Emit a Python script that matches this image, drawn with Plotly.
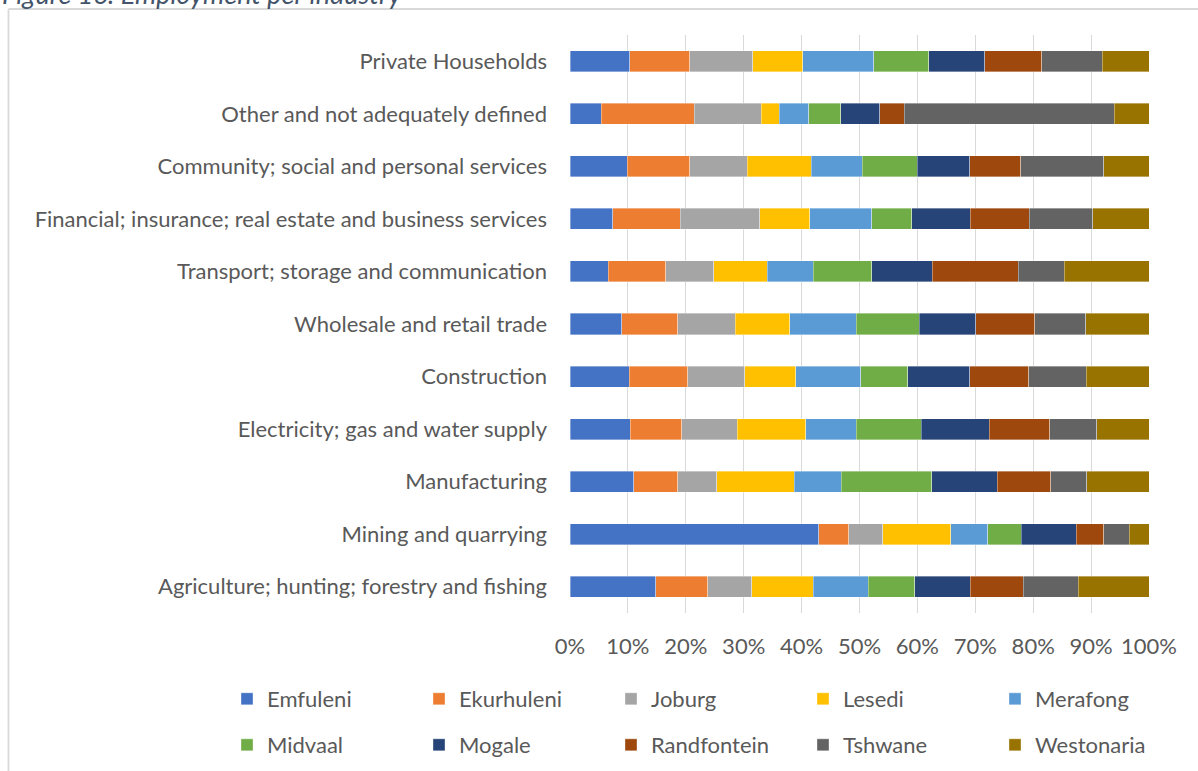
import plotly.graph_objects as go

# Industries, listed bottom to top as they appear on the axis
industries = [
    "Agriculture; hunting; forestry and fishing",
    "Mining and quarrying",
    "Manufacturing",
    "Electricity; gas and water supply",
    "Construction",
    "Wholesale and retail trade",
    "Transport; storage and communication",
    "Financial; insurance; real estate and business services",
    "Community; social and personal services",
    "Other and not adequately defined",
    "Private Households",
]

# Share of employment (%) per municipality, same order as industries
emfuleni    = [14.8, 43.0, 11.0, 10.4, 10.2, 8.9, 6.6, 7.4, 9.9, 5.4, 10.3]
ekurhuleni  = [9.0, 5.2, 7.6, 8.9, 10.1, 9.7, 9.9, 11.6, 10.8, 16.1, 10.4]
joburg      = [7.6, 5.9, 6.8, 9.6, 9.9, 9.9, 8.3, 13.8, 9.9, 11.5, 10.9]
lesedi      = [10.6, 11.7, 13.4, 11.8, 8.8, 9.4, 9.3, 8.6, 11.1, 3.1, 8.6]
merafong    = [9.5, 6.4, 8.1, 8.7, 11.2, 11.5, 7.9, 10.7, 8.8, 5.1, 12.3]
midvaal     = [8.0, 5.8, 15.6, 11.3, 8.1, 10.9, 10.1, 6.9, 9.5, 5.6, 9.5]
mogale      = [9.6, 9.5, 11.4, 11.7, 10.7, 9.7, 10.5, 10.1, 9.1, 6.7, 9.6]
randfontein = [9.2, 4.8, 9.2, 10.5, 10.2, 10.2, 14.8, 10.2, 8.8, 4.2, 9.9]
tshwane     = [9.5, 4.4, 6.2, 8.1, 10.0, 8.8, 8.0, 11.0, 14.4, 36.3, 10.4]
westonaria  = [12.2, 3.4, 10.8, 9.0, 10.8, 10.9, 14.6, 9.7, 7.8, 6.0, 8.1]

series_names = ["Emfuleni", "Ekurhuleni", "Joburg", "Lesedi", "Merafong",
                "Midvaal", "Mogale", "Randfontein", "Tshwane", "Westonaria"]
series_values = [emfuleni, ekurhuleni, joburg, lesedi, merafong,
                 midvaal, mogale, randfontein, tshwane, westonaria]
series_colors = ["#4472C4", "#ED7D31", "#A5A5A5", "#FFC000", "#5B9BD5",
                 "#70AD47", "#264478", "#9E480E", "#636363", "#997300"]

x_ticks = [0, 10, 20, 30, 40, 50, 60, 70, 80, 90, 100]

W, H = 1198, 771
L, R, T, B = 570, 49, 35, 158
pw, ph = W - L - R, H - T - B

def px_x(p):
    return (p - L) / pw

def px_y(p):
    return (H - B - p) / ph

FONT = "Lato"
TXT = "#595959"
FS = 22

fig = go.Figure()
for i, (name, vals, col) in enumerate(zip(series_names, series_values, series_colors)):
    fig.add_trace(go.Bar(
        y=industries, x=vals, name=name, orientation="h",
        marker=dict(color=col, line=dict(color="rgba(255,255,255,0.6)", width=0.6)),
        legend="legend" if i < 5 else "legend2",
    ))

legend_common = dict(
    orientation="h", xref="paper", yref="paper", xanchor="left", yanchor="middle",
    font=dict(family=FONT, size=FS, color=TXT),
    entrywidth=147, entrywidthmode="pixels", itemwidth=30,
    bgcolor="rgba(0,0,0,0)", traceorder="normal",
)

fig.update_layout(
    width=W, height=H,
    margin=dict(l=L, r=R, t=T, b=B, pad=0, autoexpand=False),
    paper_bgcolor="white", plot_bgcolor="white",
    barmode="stack", barnorm="percent", bargap=0.6,
    font=dict(family=FONT, size=FS, color=TXT),
    showlegend=True,
    legend=dict(legend_common, x=px_x(227), y=px_y(699)),
    legend2=dict(legend_common, x=px_x(227), y=px_y(745)),
    xaxis=dict(
        range=[0, 100], tickvals=x_ticks, ticktext=[f"{v}%" for v in x_ticks],
        showgrid=True, gridcolor="#D9D9D9", gridwidth=1.3, zeroline=False,
        showline=False, ticks="", ticklabelstandoff=18,
        tickfont=dict(family=FONT, size=FS, color=TXT), fixedrange=True,
    ),
    yaxis=dict(
        categoryorder="array", categoryarray=industries,
        showgrid=False, zeroline=False, showline=False, ticks="",
        ticklabelstandoff=22,
        tickfont=dict(family=FONT, size=FS, color=TXT), fixedrange=True,
    ),
    shapes=[
        # chart frame: left and top edges
        dict(type="line", xref="paper", yref="paper", x0=px_x(8.5), x1=px_x(1210),
             y0=px_y(9), y1=px_y(9), line=dict(color="#D9D9D9", width=1.8)),
        dict(type="line", xref="paper", yref="paper", x0=px_x(8.5), x1=px_x(8.5),
             y0=px_y(9), y1=px_y(790), line=dict(color="#D9D9D9", width=1.8)),
    ],
    annotations=[
        dict(text="<i>Figure 16: Employment per industry</i>", xref="paper", yref="paper",
             x=px_x(0), y=px_y(12), xanchor="left", yanchor="bottom", showarrow=False,
             font=dict(family=FONT, size=27, color="#44546A")),
    ],
)

fig.write_html("out.html")
